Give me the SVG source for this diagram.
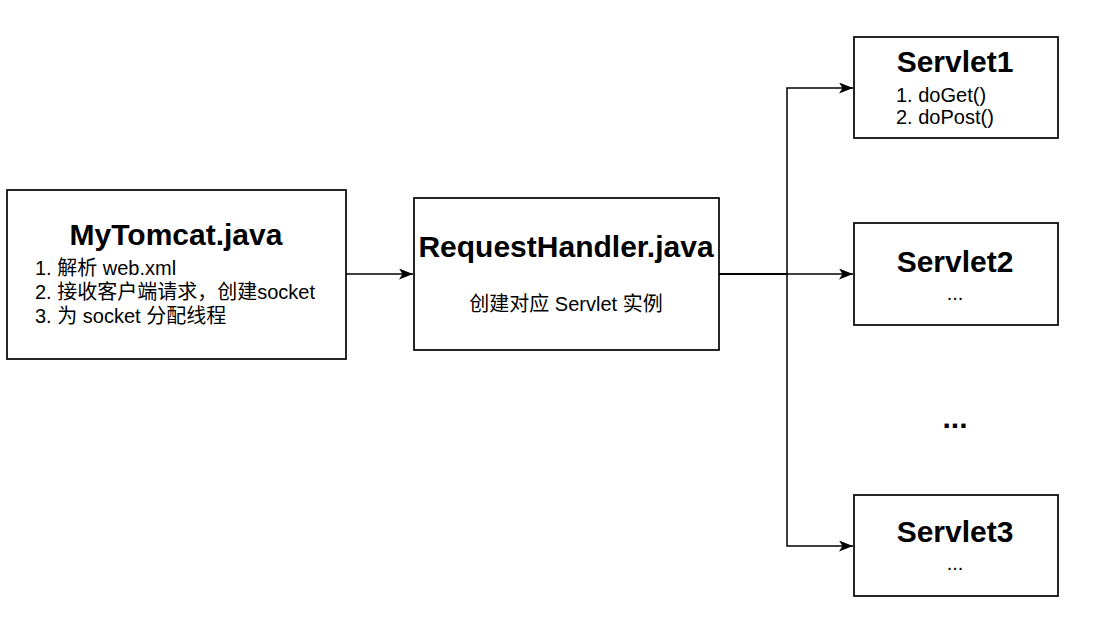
<svg xmlns="http://www.w3.org/2000/svg" width="1096" height="622" viewBox="0 0 1096 622">
<style>
.box{fill:#fff;stroke:#000;stroke-width:1.7}
.t{font-family:"Liberation Sans",Arial,"Noto Sans CJK SC",sans-serif;fill:#000}
.title{font-size:30px;font-weight:bold;text-anchor:middle}
.body{font-size:20px}
.mid{text-anchor:middle}
.conn{fill:none;stroke:#000;stroke-width:1.5}
</style>
<defs>
<marker id="arr" viewBox="0 0 14 11" refX="14" refY="5.5" markerWidth="14" markerHeight="11" markerUnits="userSpaceOnUse" orient="auto">
<path d="M0,0 L14,5.5 L0,11 L3.5,5.5 Z" fill="#000"/>
</marker>
</defs>
<rect width="1096" height="622" fill="#fff"/>
<g id="connectors">
<path class="conn" d="M346,274 H413" marker-end="url(#arr)"/>
<path class="conn" d="M719,274 H787 V88 H853" marker-end="url(#arr)"/>
<path class="conn" d="M719,274 H853" marker-end="url(#arr)"/>
<path class="conn" d="M719,274 H787 V546 H853" marker-end="url(#arr)"/>
</g>
<g id="mytomcat">
<rect class="box" x="7" y="190" width="339" height="169"/>
<text class="t title" x="176" y="245">MyTomcat.java</text>
<text class="t body" x="35" y="275">1. 解析 web.xml</text>
<text class="t body" x="35" y="299">2. 接收客户端请求，创建socket</text>
<text class="t body" x="35" y="323">3. 为 socket 分配线程</text>
</g>
<g id="requesthandler">
<rect class="box" x="414" y="198" width="305" height="152"/>
<text class="t title" x="566" y="257">RequestHandler.java</text>
<text class="t body mid" x="566" y="311">创建对应 Servlet 实例</text>
</g>
<g id="servlet1">
<rect class="box" x="854" y="37" width="204" height="101"/>
<text class="t title" x="955" y="72">Servlet1</text>
<text class="t body" x="896" y="101.5">1. doGet()</text>
<text class="t body" x="896" y="123.5">2. doPost()</text>
</g>
<g id="servlet2">
<rect class="box" x="854" y="223" width="204" height="102"/>
<text class="t title" x="955" y="272">Servlet2</text>
<text class="t body mid" x="955" y="300">...</text>
</g>
<g id="ellipsis">
<text class="t title" x="955" y="428">...</text>
</g>
<g id="servlet3">
<rect class="box" x="854" y="495" width="204" height="101"/>
<text class="t title" x="955" y="542">Servlet3</text>
<text class="t body mid" x="955" y="570">...</text>
</g>
</svg>
